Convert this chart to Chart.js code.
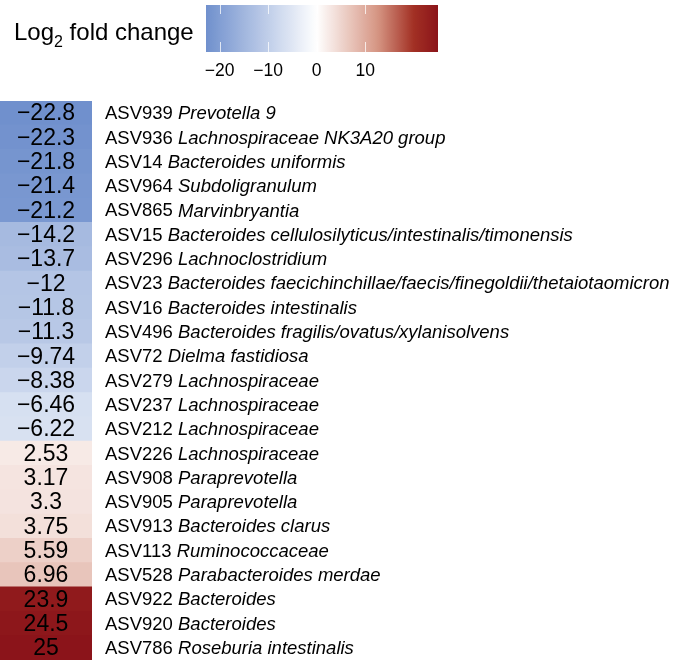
<!DOCTYPE html>
<html>
<head>
<meta charset="utf-8">
<script src="https://cdn.jsdelivr.net/npm/chart.js@4"></script>
<style>
  body { margin: 0; background: #fff; }
  #wrap { position: relative; width: 686px; height: 660px; }
  #heat { position: absolute; left: 0; top: 0; }
  #scaleBar { position: absolute; left: 195px; top: 0; }
</style>
</head>
<body>
<div id="wrap">
  <canvas id="heat" width="686" height="660"></canvas>
  <canvas id="scaleBar" width="260" height="95"></canvas>
</div>
<script>
const asvIds = ["ASV939", "ASV936", "ASV14", "ASV964", "ASV865", "ASV15", "ASV296", "ASV23",
  "ASV16", "ASV496", "ASV72", "ASV279", "ASV237", "ASV212", "ASV226", "ASV908", "ASV905",
  "ASV913", "ASV113", "ASV528", "ASV922", "ASV920", "ASV786"];
const taxa = ["Prevotella 9", "Lachnospiraceae NK3A20 group", "Bacteroides uniformis",
  "Subdoligranulum", "Marvinbryantia", "Bacteroides cellulosilyticus/intestinalis/timonensis",
  "Lachnoclostridium", "Bacteroides faecichinchillae/faecis/finegoldii/thetaiotaomicron",
  "Bacteroides intestinalis", "Bacteroides fragilis/ovatus/xylanisolvens", "Dielma fastidiosa",
  "Lachnospiraceae", "Lachnospiraceae", "Lachnospiraceae", "Lachnospiraceae", "Paraprevotella",
  "Paraprevotella", "Bacteroides clarus", "Ruminococcaceae", "Parabacteroides merdae",
  "Bacteroides", "Bacteroides", "Roseburia intestinalis"];
const log2fc = [-22.8, -22.3, -21.8, -21.4, -21.2, -14.2, -13.7, -12, -11.8, -11.3, -9.74,
  -8.38, -6.46, -6.22, 2.53, 3.17, 3.3, 3.75, 5.59, 6.96, 23.9, 24.5, 25];
const legendTicks = [-20, -10, 0, 10];

const FONT = "'Liberation Sans', Arial, Helvetica, sans-serif";
const colMin = Math.min(...log2fc), colMax = Math.max(...log2fc);

// blue - white - red ramp
const ramp = [
  [colMin, [112, 144, 205]],
  [0, [255, 255, 255]],
  [12.5, [214, 150, 132]],
  [20, [162, 48, 36]],
  [colMax, [139, 20, 26]]
];
function fcColor(v) {
  for (let i = 1; i < ramp.length; i++) {
    if (v <= ramp[i][0] || i === ramp.length - 1) {
      const [v0, c0] = ramp[i - 1], [v1, c1] = ramp[i];
      let t = (v - v0) / (v1 - v0);
      t = Math.max(0, Math.min(1, t));
      const c = c0.map((a, k) => Math.round(a + (c1[k] - a) * t));
      return `rgb(${c[0]},${c[1]},${c[2]})`;
    }
  }
}
const fmt = v => String(v).replace("-", "\u2212");

/* heatmap column */
const cellText = {
  id: "cellText",
  afterDatasetsDraw(chart) {
    const c = chart.ctx, area = chart.chartArea;
    const meta = chart.getDatasetMeta(0);
    c.save();
    c.fillStyle = "#000";
    c.textBaseline = "middle";
    meta.data.forEach((bar, i) => {
      const y = bar.y + 1;
      c.font = "23px " + FONT;
      c.textAlign = "center";
      c.fillText(fmt(log2fc[i]), (area.left + area.right) / 2, y);
      c.textAlign = "left";
      c.font = "18.5px " + FONT;
      const id = asvIds[i] + " ";
      c.fillText(id, 105, y);
      const w = c.measureText(id).width;
      c.font = "italic 18.5px " + FONT;
      c.fillText(taxa[i], 105 + w, y);
    });
    // legend title
    c.textBaseline = "alphabetic";
    c.textAlign = "left";
    c.font = "24px " + FONT;
    c.fillText("Log", 14, 40);
    let x = 14 + c.measureText("Log").width;
    c.font = "16px " + FONT;
    c.fillText("2", x, 47);
    x += c.measureText("2").width;
    c.font = "24px " + FONT;
    c.fillText(" fold change", x, 40);
    c.restore();
  }
};

new Chart(document.getElementById("heat"), {
  type: "bar",
  data: {
    labels: asvIds,
    datasets: [{
      data: log2fc.map(() => 1),
      backgroundColor: log2fc.map(fcColor),
      borderWidth: 0,
      categoryPercentage: 1,
      barPercentage: 1,
      inflateAmount: 0.5
    }]
  },
  options: {
    indexAxis: "y",
    responsive: false,
    animation: false,
    layout: { padding: { left: 0, top: 101, right: 594, bottom: 0 } },
    scales: {
      x: { display: false, min: 0, max: 1 },
      y: { display: false }
    },
    plugins: { legend: { display: false }, tooltip: { enabled: false } }
  },
  plugins: [cellText]
});

/* colour key */
const gradientBar = {
  id: "gradientBar",
  beforeDatasetsDraw(chart) {
    const c = chart.ctx, a = chart.chartArea, sx = chart.scales.x;
    const g = c.createLinearGradient(a.left, 0, a.right, 0);
    for (let k = 0; k <= 48; k++) {
      const v = colMin + (colMax - colMin) * k / 48;
      g.addColorStop(k / 48, fcColor(v));
    }
    c.save();
    c.fillStyle = g;
    c.fillRect(a.left, a.top, a.right - a.left, a.bottom - a.top);
    c.strokeStyle = "rgba(255,255,255,0.75)";
    c.lineWidth = 1;
    legendTicks.forEach(t => {
      const px = Math.round(sx.getPixelForValue(t)) + 0.5;
      c.beginPath();
      c.moveTo(px, a.top); c.lineTo(px, a.top + 9);
      c.moveTo(px, a.bottom - 10); c.lineTo(px, a.bottom);
      c.stroke();
    });
    c.restore();
  }
};

new Chart(document.getElementById("scaleBar"), {
  type: "scatter",
  data: { datasets: [] },
  options: {
    responsive: false,
    animation: false,
    layout: { padding: { left: 11, right: 17, top: 5, bottom: 4 } },
    scales: {
      x: {
        type: "linear",
        min: colMin,
        max: colMax,
        grid: { display: false, drawTicks: false },
        border: { display: false },
        afterBuildTicks: s => { s.ticks = legendTicks.map(v => ({ value: v })); },
        ticks: {
          color: "#000",
          padding: 9,
          maxRotation: 0,
          font: { family: FONT, size: 17.5 },
          callback: v => fmt(v)
        }
      },
      y: { display: false }
    },
    plugins: { legend: { display: false }, tooltip: { enabled: false } }
  },
  plugins: [gradientBar]
});
</script>
</body>
</html>
